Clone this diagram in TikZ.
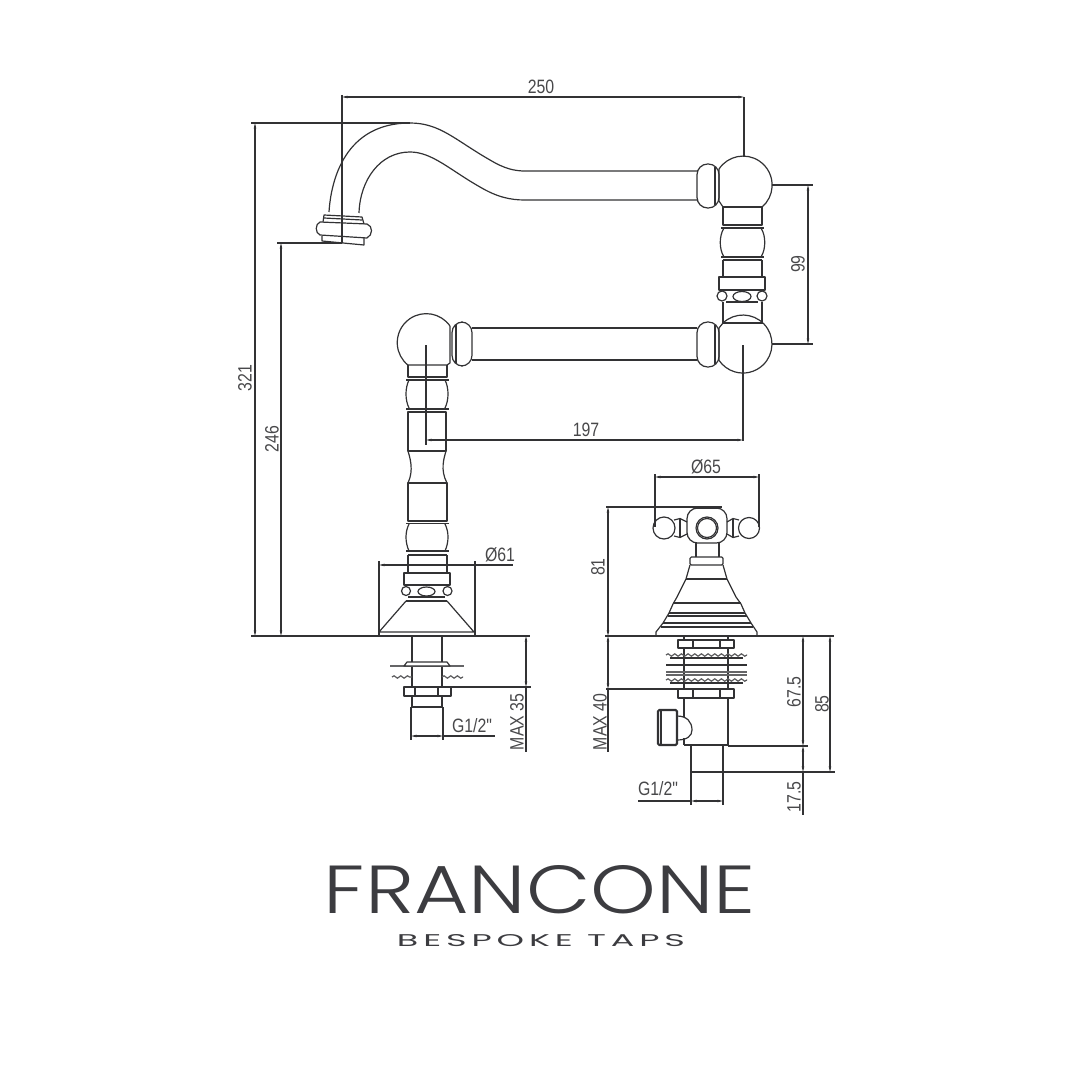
\documentclass[tikz,border=0pt]{standalone}
\usepackage{graphicx}
\usepackage{fontspec}
\usepackage{tikz}
\usetikzlibrary{arrows.meta}
\usetikzlibrary{decorations.pathmorphing}
\newfontfamily\dimfont{Liberation Sans}
\newfontfamily\logofont{Poppins Light}
\newfontfamily\tagfont{Poppins}
\newcommand{\dimtxt}[1]{\scalebox{0.82}[1]{\fontsize{14.5}{15}\dimfont #1}}
\definecolor{inkline}{RGB}{50,50,52}
\definecolor{inktext}{RGB}{72,72,74}
\definecolor{logoink}{RGB}{60,60,64}

\begin{document}
\begin{tikzpicture}[x=0.75pt,y=0.75pt,yscale=-1,xscale=1,
  outline/.style={draw=inkline,line width=0.9pt,line join=round},
  heavy/.style={draw=inkline,line width=1.6pt},
  fin/.style={draw=inkline!75,line width=1.3pt},
  serrated/.style={draw=inkline!80,line width=0.9pt,decorate,decoration={snake,amplitude=0.9pt,segment length=5pt}},
  extline/.style={draw=inkline,line width=0.9pt},
  dimline/.style={draw=inkline,line width=0.9pt,{Stealth[length=4pt,width=1.8pt]}-{Stealth[length=4pt,width=1.8pt]}},
  dimleft/.style={draw=inkline,line width=0.9pt,{Stealth[length=4pt,width=1.8pt]}-},
  dimlabel/.style={text=inktext,inner sep=0.75pt}]
\useasboundingbox (0,0) rectangle (1080,1080);

%Straight Lines: base lines
\draw [extline] (251,636) -- (530,636) ;
\draw [extline] (605,636) -- (834,636) ;

%Shape: Path Data, spout
\draw [outline] (329,212) .. controls (331,180) and (345,123) .. (410,123) .. controls (440,123) and (455,140) .. (490,160) .. controls (505,169) and (515,171) .. (525,171) -- (698,171) ;
\draw [outline] (359,213) .. controls (360,180) and (380,152) .. (410,152) .. controls (432,152) and (450,170) .. (480,187) .. controls (497,197) and (510,200) .. (525,200) -- (698,200) ;
%Shape: Path Data, spout end
\draw [outline] (323,222) -- (324,215) -- (362,217) -- (364,224) ;
\draw [outline] (324,218) -- (362,220) ;
\draw [outline] (320,222) -- (367,224) .. controls (373,226) and (373,235) .. (367,238) -- (320,235) .. controls (315,233) and (315,224) .. (320,222) -- cycle ;
\draw [outline] (322,236) -- (322,241) -- (364,245) -- (364,238) ;

%Shape: Arc, upper ball
\draw [outline] (719,169) arc [start angle=213.7,end angle=409,radius=29] ;
\draw [outline] (723,207) -- (762,207) ;
\draw [outline] (719,169) -- (719,201) -- (723,207) ;
%Shape: Rectangle, upper collar
\draw [outline,rounded corners=8pt] (697,164) rectangle (719,208) ;
\draw [outline] (715,167) -- (715,205) ;
%Shape: Rectangle, riser
\draw [outline] (723,207) -- (723,225) -- (762,225) -- (762,207) ;
\draw [outline] (721,228) -- (764,228) ;
\draw [outline] (724,228) .. controls (719,236) and (719,249) .. (724,257) ;
\draw [outline] (761,228) .. controls (766,236) and (766,249) .. (761,257) ;
\draw [outline] (721,257) -- (764,257) ;
\draw [outline] (723,260) -- (762,260) ;
\draw [outline] (723,260) -- (723,277) ;
\draw [outline] (762,260) -- (762,277) ;
\draw [outline] (719,277) rectangle (765,290) ;
%Shape: Circle, bead row
\draw [outline] (722,296) circle (5) ;
\draw [outline] (762,296) circle (5) ;
\draw [outline] (742,296.5) ellipse (9 and 5) ;
\draw [outline] (726,302) -- (758,302) ;
\draw [outline] (723,302) -- (723,323) ;
\draw [outline] (762,302) -- (762,323) ;

%Shape: Arc, lower ball
\draw [outline] (723,323) arc [start angle=226.5,end angle=506,radius=29] ;
\draw [outline] (723,323) -- (763,323) ;
\draw [outline] (719,360) -- (719,328) -- (723,323) ;
%Shape: Rectangle, lower collar
\draw [outline,rounded corners=8pt] (697,322) rectangle (719,367) ;
\draw [outline] (715,325) -- (715,364) ;
%Straight Lines: lower arm
\draw [outline] (472,328) -- (697,328) ;
\draw [outline] (472,360) -- (697,360) ;
%Shape: Rectangle, left collar
\draw [outline,rounded corners=8pt] (452,322) rectangle (472,366) ;
\draw [outline] (456,325) -- (456,363) ;
%Shape: Arc, left ball
\draw [outline] (450,326) arc [start angle=-35,end angle=-231,radius=29] ;
\draw [outline] (450,326) -- (450,363) -- (447,365) -- (408,365) ;

%Shape: Rectangle, column
\draw [outline] (408,365) -- (408,377) -- (447,377) -- (447,365) ;
\draw [outline] (406,380) -- (449,380) ;
\draw [outline] (409,380) .. controls (405,388) and (405,400) .. (409,408) ;
\draw [outline] (445,380) .. controls (449,388) and (449,400) .. (445,408) ;
\draw [outline] (406,409) -- (449,409) ;
\draw [outline] (408,412) rectangle (446,451) ;
\draw [outline] (408,451) .. controls (410,458) and (414,470) .. (408,483) ;
\draw [outline] (446,451) .. controls (444,458) and (440,470) .. (447,483) ;
\draw [outline] (408,483) rectangle (447,521) ;
\draw [outline] (406,523.5) -- (449,523.5) ;
\draw [outline] (409,524) .. controls (405,532) and (405,542) .. (409,551) ;
\draw [outline] (445,524) .. controls (449,532) and (449,542) .. (445,551) ;
\draw [outline] (406,551) -- (449,551) ;
\draw [outline] (408,555) -- (447,555) ;
\draw [outline] (408,555) -- (408,573) ;
\draw [outline] (447,555) -- (447,573) ;
\draw [outline] (404,573) rectangle (450,585) ;
%Shape: Circle, bead row
\draw [outline] (406,591) circle (4.5) ;
\draw [outline] (447.5,591) circle (4.5) ;
\draw [outline] (426.5,591.5) ellipse (8.5 and 4.5) ;
\draw [outline] (408,597) -- (445,597) ;
\draw [outline] (406,601) -- (447,601) ;
%Shape: Path Data, cone
\draw [outline] (406,601) -- (379,632) -- (474,632) -- (447,601) ;

%Straight Lines: left tail
\draw [heavy] (412,636) -- (412,707) ;
\draw [heavy] (442,636) -- (442,707) ;
\draw [heavy] (412,707) -- (442,707) ;
\draw [fin,line width=1.8pt] (390,666) -- (464,666) ;
\draw [outline,fill=white] (404,666) -- (407,662) -- (447,662) -- (450,666) -- cycle ;
\draw [serrated] (392,677) -- (412,677) ;
\draw [serrated] (442,677) -- (463,677) ;
\draw [outline,fill=white] (404,687) rectangle (451,696) ;
\draw [outline] (415,687) -- (415,696) ;
\draw [outline] (438,687) -- (438,696) ;
\draw [outline] (411,707) -- (411,740) ;
\draw [outline] (443,707) -- (443,740) ;

%Shape: Circle, handle
\draw [outline,rounded corners=8pt] (687,508) rectangle (727,543) ;
\draw [heavy] (694,508) -- (720,508) ;
\draw [outline] (707,528) circle (11) ;
\draw [outline] (707,528) circle (9.5) ;
\draw [outline] (664,528) circle (11) ;
\draw [outline] (749,528) circle (10.5) ;
\draw [outline] (674,520) -- (680,518.5) -- (687,522) ;
\draw [outline] (674,536) -- (680,537.5) -- (687,534) ;
\draw [outline] (680,518.5) -- (680,537.5) ;
\draw [outline] (739,520) -- (733,518.5) -- (727,522) ;
\draw [outline] (739,536) -- (733,537.5) -- (727,534) ;
\draw [outline] (733,518.5) -- (733,537.5) ;
%Shape: Path Data, bell
\draw [outline] (696,543) -- (696,557) ;
\draw [outline] (719,543) -- (719,557) ;
\draw [outline,rounded corners=1pt] (690,557) rectangle (723,565) ;
\draw [outline] (690,565) -- (686,579) -- (677,597) -- (673,604) -- (669,613) -- (663,623) -- (656,632) -- (656,636) ;
\draw [outline] (723,565) -- (727,579) -- (736,597) -- (741,604) -- (745,613) -- (751,623) -- (757,632) -- (757,636) ;
\draw [outline] (686,579) -- (727,579) ;
\draw [outline] (673,603) -- (741,603) ;
\draw [outline] (669,613) -- (745,613) ;
\draw [outline] (668,616) -- (747,616) ;
\draw [outline] (663,623) -- (751,623) ;
\draw [outline] (661,627) -- (753,627) ;

%Straight Lines: right tail
\draw [outline] (684,636) -- (684,717) ;
\draw [outline] (684,738) -- (684,745) ;
\draw [outline] (728,636) -- (728,745) ;
\draw [outline] (684,745) -- (728,745) ;
\draw [outline,fill=white] (678,640) rectangle (734,648) ;
\draw [outline] (693,640) -- (693,648) ;
\draw [outline] (720,640) -- (720,648) ;
\draw [serrated] (666,655) -- (747,655) ;
\draw [outline] (670,658) -- (743,658) ;
\draw [heavy] (666,665) -- (747,665) ;
\draw [fin] (666,672) -- (747,672) ;
\draw [fin] (666,675) -- (747,675) ;
\draw [serrated] (666,680) -- (747,680) ;
\draw [outline] (670,683) -- (743,683) ;
\draw [outline,fill=white] (678,689) rectangle (734,698) ;
\draw [outline] (693,689) -- (693,698) ;
\draw [outline] (720,689) -- (720,698) ;
%Shape: Rectangle, side outlet
\draw [heavy,rounded corners=1pt] (658,710) rectangle (677,745) ;
\draw [outline] (661,711) -- (661,744) ;
\draw [outline] (677,716) .. controls (687,716) and (692,722) .. (692,730) .. controls (692,736) and (687,740) .. (677,740) ;
\draw [heavy] (691,745) -- (691,772) ;
\draw [heavy] (723,745) -- (723,772) ;
\draw [heavy] (691,772) -- (723,772) ;
\draw [outline] (691,772) -- (691,805) ;
\draw [outline] (723,772) -- (723,805) ;

%Straight Lines: extension lines
\draw [extline] (251,123) -- (410,123) ;
\draw [extline] (277,243) -- (342,243) ;
\draw [extline] (342,95) -- (342,243) ;
\draw [extline] (744,97) -- (744,157) ;
\draw [extline] (772,185) -- (813,185) ;
\draw [extline] (772,344) -- (813,344) ;
\draw [extline] (743,345) -- (743,441) ;
\draw [extline] (426,345) -- (426,445) ;
\draw [extline] (379,561) -- (379,636) ;
\draw [extline] (475,561) -- (475,636) ;
\draw [extline] (451,687) -- (531,687) ;
\draw [extline] (606,507) -- (722,507) ;
\draw [extline] (655,474) -- (655,527) ;
\draw [extline] (759,474) -- (759,527) ;
\draw [extline] (606,689) -- (678,689) ;
\draw [extline] (728,746) -- (808,746) ;
\draw [extline] (723,772) -- (835,772) ;

%Straight Lines: dimension lines
\draw [dimline] (342,97) -- (744,97) ;
\draw [dimline] (255,123) -- (255,636) ;
\draw [dimline] (281,243) -- (281,636) ;
\draw [dimline] (808,185) -- (808,344) ;
\draw [dimline] (426,440) -- (743,440) ;
\draw [dimleft] (379,565) -- (513,565) ;
\draw [dimline] (526,636) -- (526,687) ;
\draw [extline] (526,687) -- (526,752) ;
\draw [dimline] (411,736) -- (443,736) ;
\draw [extline] (443,736) -- (495,736) ;
\draw [dimline] (655,477) -- (759,477) ;
\draw [dimline] (608,507) -- (608,636) ;
\draw [dimline] (608,636) -- (608,689) ;
\draw [extline] (608,689) -- (608,752) ;
\draw [dimline] (803,636) -- (803,746) ;
\draw [dimline] (803,746) -- (803,772) ;
\draw [extline] (803,772) -- (803,815) ;
\draw [dimline] (830,636) -- (830,772) ;
\draw [dimline] (691,801) -- (723,801) ;
\draw [extline] (691,801) -- (638,801) ;

% Text Node
\draw (541,87) node (lblspout) [dimlabel] {\dimtxt{250}};
% Text Node
\draw (245,378) node (lblheight) [dimlabel,rotate=90] {\dimtxt{321}};
% Text Node
\draw (272,439) node (lbloutlet) [dimlabel,rotate=90] {\dimtxt{246}};
% Text Node
\draw (798,264) node (lblrise) [dimlabel,rotate=90] {\dimtxt{99}};
% Text Node
\draw (586,430) node (lblarm) [dimlabel] {\dimtxt{197}};
% Text Node
\draw (500,555) node (lblbase) [dimlabel] {\dimtxt{Ø61}};
% Text Node
\draw (472,726) node (lblthreadl) [dimlabel] {\dimtxt{G1/2"}};
% Text Node
\draw (517,722) node (lblmaxl) [dimlabel,rotate=90] {\dimtxt{MAX 35}};
% Text Node
\draw (706,467) node (lblhandle) [dimlabel] {\dimtxt{Ø65}};
% Text Node
\draw (598,567) node (lblvalve) [dimlabel,rotate=90] {\dimtxt{81}};
% Text Node
\draw (600,722) node (lblmaxr) [dimlabel,rotate=90] {\dimtxt{MAX 40}};
% Text Node
\draw (658,789) node (lblthreadr) [dimlabel] {\dimtxt{G1/2"}};
% Text Node
\draw (794,692) node (lblbody) [dimlabel,rotate=90] {\dimtxt{67.5}};
% Text Node
\draw (822,704) node (lbldepth) [dimlabel,rotate=90] {\dimtxt{85}};
% Text Node
\draw (794,797) node (lbltail) [dimlabel,rotate=90] {\dimtxt{17.5}};
% Text Node
\draw (540,890) node (logoname) [text=logoink,inner sep=0pt] {\resizebox{324pt}{36pt}{\logofont FRANCONE}};
% Text Node
\draw (541,941) node (logotag) [text=logoink,inner sep=0pt] {\resizebox{216pt}{9pt}{\tagfont\addfontfeature{LetterSpace=14} BESPOKE TAPS}};

\end{tikzpicture}
\end{document}
